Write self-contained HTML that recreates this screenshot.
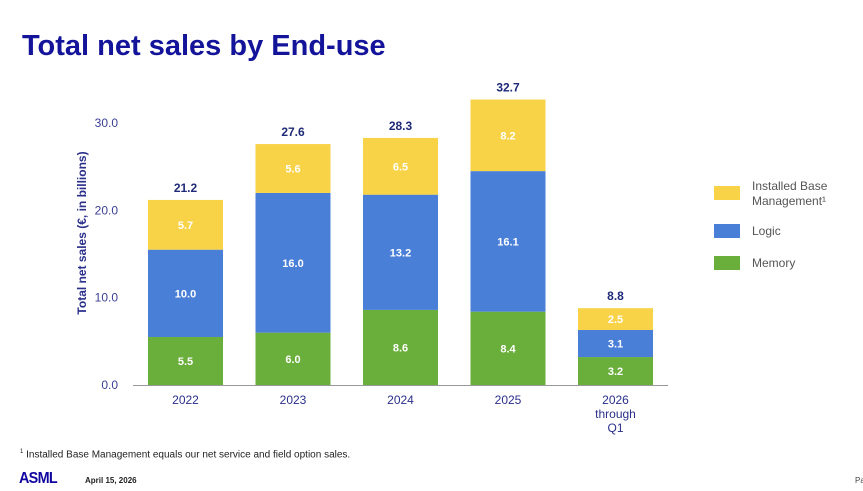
<!DOCTYPE html>
<html><head><meta charset="utf-8"><style>
body{margin:0;width:863px;height:491px;background:#fff;overflow:hidden;font-family:"Liberation Sans",sans-serif;position:relative}
.t{position:absolute;white-space:nowrap}
</style></head><body>
<div class="t" style="left:22px;top:30px;font-size:29px;font-weight:bold;color:#14149a">Total net sales by End-use</div>
<svg id="c" width="863" height="491" style="position:absolute;left:0;top:0" font-family="Liberation Sans, sans-serif"></svg>
<div class="t" style="left:20px;top:449px;font-size:10px;color:#222"><sup style="font-size:6px">1</sup> Installed Base Management equals our net service and field option sales.</div>
<div class="t" style="left:19px;top:470px;font-size:16px;font-weight:bold;color:#10069f;letter-spacing:-0.8px;transform:scaleX(0.9);transform-origin:left">ASML</div>
<div class="t" style="left:85px;top:476px;font-size:8px;font-weight:bold;color:#222">April 15, 2026</div>
<div class="t" style="left:855px;top:476px;font-size:8px;color:#444">Pa</div>
<script>
const categories=["2022","2023","2024","2025","2026|through|Q1"];
const memory=[5.5,6.0,8.6,8.4,3.2];
const logic=[10.0,16.0,13.2,16.1,3.1];
const ibm=[5.7,5.6,6.5,8.2,2.5];
const totals=[21.2,27.6,28.3,32.7,8.8];
const ticks=[0,10,20,30];
const svg=document.getElementById('c');
const NS='http://www.w3.org/2000/svg';
const y=v=>385-v*8.73;
const x=i=>148+i*107.5;
const bw=75;
function mk(t,a,txt){const e=document.createElementNS(NS,t);for(const k in a)e.setAttribute(k,a[k]);if(txt!=null)e.textContent=txt;svg.appendChild(e);return e;}
ticks.forEach(t=>{const e=mk('text',{x:118,y:y(t)+4,'text-anchor':'end','font-size':12,fill:'#3a3f95'},t.toFixed(1));

});
const yt=mk('text',{transform:'translate(86,233) rotate(-90)','text-anchor':'middle','font-size':12,'font-weight':'bold',fill:'#2a2f8a'},'Total net sales (€, in billions)');


const series=[[memory,'#6aae3b','memory'],[logic,'#4a7fd8','logic'],[ibm,'#f8d247','installed-base']];
categories.forEach((c,i)=>{let base=0;
series.forEach(([arr,col,nm])=>{const v=arr[i];
const r=mk('rect',{x:x(i),y:y(base+v),width:bw,height:y(base)-y(base+v),fill:col});


const l=mk('text',{x:x(i)+bw/2,y:(y(base)+y(base+v))/2+4,'text-anchor':'middle','font-size':11,'font-weight':'bold',fill:'#fff'},v.toFixed(1));


base+=v;});
const tl=mk('text',{x:x(i)+bw/2,y:y(totals[i])-8,'text-anchor':'middle','font-size':12,'font-weight':'bold',fill:'#1e2a78'},totals[i].toFixed(1));


c.split('|').forEach((p,j)=>{const e=mk('text',{x:x(i)+bw/2,y:404+j*14,'text-anchor':'middle','font-size':12,fill:'#2a2f8a'},p);

});
});
const ax=mk('line',{x1:133,x2:668,y1:385.5,y2:385.5,stroke:'#999','stroke-width':1});


const leg=[['#f8d247',193,['Installed Base','Management¹']],['#4a7fd8',231,['Logic']],['#6aae3b',263,['Memory']]];
leg.forEach(([col,yy,lines])=>{const r=mk('rect',{x:714,y:yy-7,width:26,height:14,fill:col});


lines.forEach((s,j)=>{const t=mk('text',{x:752,y:yy+(lines.length>1?-3:4)+j*15,'font-size':12,fill:'#555'},s);

});});
</script>
</body></html>
